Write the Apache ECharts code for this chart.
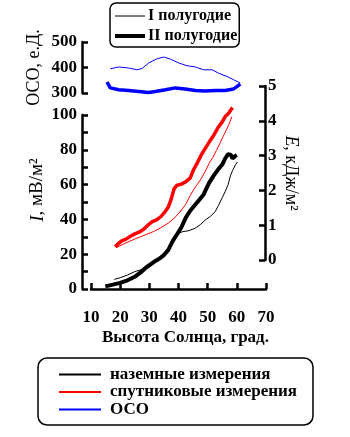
<!DOCTYPE html>
<html>
<head>
<meta charset="utf-8">
<script src="https://cdn.jsdelivr.net/npm/echarts@6/dist/echarts.min.js"></script>
<style>
  html, body { margin: 0; padding: 0; background: #fff; }
  #chart { width: 350px; height: 437px; }
</style>
</head>
<body>
<div id="chart"></div>
<script>
// sun elevation (deg) vs value
const ocoFirstHalf = [[16.6,395],[19.5,402],[22.9,398],[25.8,391],[27.5,396],[29.8,418],[32.6,434],[34.9,441],[37.2,433],[40,418],[42.9,407],[45.8,402],[48.6,391],[51.5,391],[53.7,378],[56.6,365],[58.9,352],[61.2,339]];
const ocoSecondHalf = [[15.5,343],[16.6,320],[19.5,313],[22.9,310],[26.3,306],[29.7,302],[32,306],[35.5,313],[38.9,320],[42.3,316],[45.8,310],[49.2,308],[52.6,310],[56,310],[58.9,316],[61.2,335]];

// ground measurements, I (mW/m2)
const groundFirstHalf = [[18,5.5],[20,6.5],[22.5,8],[25,10],[27,11],[29.5,13.5],[32,16.5],[34.5,19],[36.5,22.5],[38.5,28],[40,32],[41.5,33],[43.5,33.5],[45.8,35],[47.5,37],[49.2,39.7],[51,41.8],[52.6,44.5],[53.7,48],[55,52.5],[56,56],[57,60],[57.8,65],[58.5,68],[59.5,71.3],[60.2,73]];
const groundSecondHalf = [[14.9,1.5],[17.5,2.5],[20,3.5],[22.5,5],[25,7],[27,9.5],[29,12.5],[31.5,15.5],[33.5,17.5],[35,19.5],[36.5,22.5],[38,27.5],[39.5,31.5],[41,35.5],[42.5,41],[44,45],[45.5,48],[47,51],[48.5,54],[49.5,57.5],[50.5,61],[52,65],[53.5,68.5],[55,71.5],[56,75],[57,77.5],[58,77],[58.5,75],[59.5,76.5],[60,77]];

// satellite measurements, E (kJ/m2)
const satFirstHalf = [[18.5,0.35],[20.5,0.43],[23,0.53],[25.5,0.62],[28.5,0.72],[31.5,0.82],[34,0.93],[36.5,1.06],[38.5,1.2],[40.5,1.38],[42.5,1.6],[44,1.85],[45.8,2.1],[47.5,2.3],[49.2,2.55],[50.5,2.78],[51.8,2.95],[53,3.15],[54.2,3.35],[55.3,3.55],[56.3,3.72],[57.3,3.9],[58.3,4.12]];
const satSecondHalf = [[18.3,0.38],[19.5,0.48],[20.5,0.55],[22,0.6],[23.5,0.68],[25,0.75],[26.5,0.8],[28,0.88],[29.5,1.0],[31,1.1],[32.5,1.15],[34,1.25],[35.5,1.4],[36.5,1.52],[37.5,1.75],[38.5,2.05],[39.5,2.15],[41,2.18],[42.5,2.25],[44,2.35],[45.2,2.6],[46.5,2.8],[48,3.05],[49.5,3.25],[51,3.45],[52.2,3.6],[53.5,3.8],[55,3.97],[56,4.12],[57.2,4.22],[58.5,4.38]];

const xTicks = [10, 70, 10];   // min, max, step
const halfNames = ['I полугодие', 'II полугодие'];
const kindNames = ['наземные измерения', 'спутниковые измерения', 'ОСО'];

const FONT = "'Liberation Serif', 'Times New Roman', serif";
const BLACK = '#000';
const RED = '#ff0000';
const BLUE = '#0000ff';

const chart = echarts.init(document.getElementById('chart'));

const axisLine = { show: true, lineStyle: { color: BLACK, width: 2.5 } };
const tick = { show: true, inside: true, length: 6, lineStyle: { color: BLACK, width: 2.5 } };
const label = { color: BLACK, fontFamily: FONT, fontWeight: 'bold', fontSize: 17 };
const nameStyle = size => ({
  color: BLACK, fontFamily: FONT, fontSize: size,
  rich: { i: { fontStyle: 'italic', fontFamily: FONT, fontSize: size, color: BLACK } }
});

const xBase = (i, visible) => ({
  type: 'value', gridIndex: i, min: xTicks[0], max: xTicks[1], interval: xTicks[2],
  show: visible, splitLine: { show: false }
});

const lineSeries = (name, data, color, width, xi, yi) => ({
  name, type: 'line', data, xAxisIndex: xi, yAxisIndex: yi,
  symbol: 'none', smooth: false, silent: true,
  lineStyle: { color, width }, itemStyle: { color }
});

const option = {
  animation: false,
  textStyle: { fontFamily: FONT },
  grid: [
    { left: 91, width: 175, top: 42, height: 51 },
    { left: 91, width: 175, top: 115, height: 174 },
    { left: 91, width: 175, top: 86, height: 174 }
  ],
  xAxis: [
    xBase(0, false),
    Object.assign(xBase(1, true), {
      offset: 13,
      axisLine, axisTick: tick,
      axisLabel: Object.assign({ margin: 7 }, label),
      name: 'Высота Солнца, град.', nameLocation: 'middle', nameGap: 27,
      nameTextStyle: Object.assign({ padding: [0, 0, 0, 14] }, label)
    }),
    xBase(2, false)
  ],
  yAxis: [
    {
      type: 'value', gridIndex: 0, min: 300, max: 500, interval: 100,
      position: 'left', offset: 9, axisLine, axisTick: tick,
      axisLabel: Object.assign({ margin: 5 }, label),
      splitLine: { show: false },
      name: 'ОСО, е.Д.', nameLocation: 'middle', nameGap: 39,
      nameTextStyle: nameStyle(18)
    },
    {
      type: 'value', gridIndex: 1, min: 0, max: 100, interval: 20,
      position: 'left', offset: 9, axisLine, axisTick: tick,
      minorTick: { show: true, splitNumber: 2, length: 6, lineStyle: { color: BLACK, width: 2.5 } },
      axisLabel: Object.assign({ margin: 5 }, label),
      splitLine: { show: false },
      name: '{i|I}, мВ/м²', nameLocation: 'middle', nameGap: 35,
      nameTextStyle: Object.assign(nameStyle(19), { padding: [0, 0, 0, 24] })
    },
    {
      type: 'value', gridIndex: 2, min: 0, max: 5, interval: 1,
      position: 'right', offset: -1, axisLine, axisTick: tick,
      axisLabel: Object.assign({ margin: 3 }, label),
      splitLine: { show: false },
      name: '{i|E}, кДж/м²', nameLocation: 'middle', nameGap: 17, nameRotate: -90,
      nameTextStyle: nameStyle(18)
    }
  ],
  legend: [
    {
      data: [
        { name: halfNames[0], lineStyle: { width: 1 } },
        { name: halfNames[1], lineStyle: { width: 4 } }
      ],
      orient: 'vertical', left: 110, top: 3,
      selectedMode: false, itemWidth: 30, itemHeight: 14, itemGap: 4,
      padding: [5, 2, 3, 3],
      itemStyle: { opacity: 0 },
      borderColor: BLACK, borderWidth: 1.5, borderRadius: 6,
      textStyle: { color: BLACK, fontFamily: FONT, fontWeight: 'bold', fontSize: 16, lineHeight: 16, padding: [0, 0, 0, -2] }
    },
    {
      data: kindNames.map(n => ({ name: n, lineStyle: { width: 2 } })),
      orient: 'vertical', left: 38, top: 358, width: 277,
      selectedMode: false, itemWidth: 42, itemHeight: 14, itemGap: 0.5,
      padding: [8, 16, 7, 20],
      itemStyle: { opacity: 0 },
      borderColor: BLACK, borderWidth: 1.5, borderRadius: 9,
      textStyle: { color: BLACK, fontFamily: FONT, fontWeight: 'bold', fontSize: 17, lineHeight: 16, padding: [0, 0, 0, 4] }
    }
  ],
  series: [
    lineSeries('OCO I', ocoFirstHalf, BLUE, 1, 0, 0),
    lineSeries('OCO II', ocoSecondHalf, BLUE, 3.5, 0, 0),
    lineSeries('ground I', groundFirstHalf, BLACK, 1, 1, 1),
    lineSeries('ground II', groundSecondHalf, BLACK, 4, 1, 1),
    lineSeries('sat I', satFirstHalf, RED, 1, 2, 2),
    lineSeries('sat II', satSecondHalf, RED, 3.5, 2, 2),
    // legend-only entries
    lineSeries(halfNames[0], [], BLACK, 1, 1, 1),
    lineSeries(halfNames[1], [], BLACK, 4, 1, 1),
    lineSeries(kindNames[0], [], BLACK, 2, 1, 1),
    lineSeries(kindNames[1], [], RED, 2, 1, 1),
    lineSeries(kindNames[2], [], BLUE, 2, 1, 1)
  ]
};

chart.setOption(option);
</script>
</body>
</html>
